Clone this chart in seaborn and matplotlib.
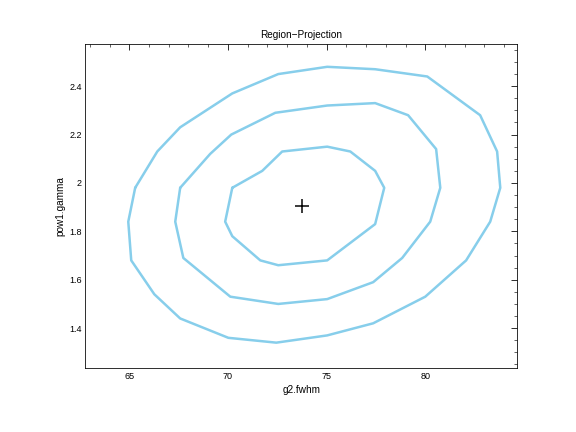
import matplotlib
matplotlib.use("Agg")
import matplotlib.pyplot as plt
import seaborn as sns
import pandas as pd
from matplotlib.ticker import AutoMinorLocator

sns.set_style("white")
plt.rcParams['font.family'] = ['Liberation Sans', 'DejaVu Sans']
plt.rcParams['text.color'] = 'black'
plt.rcParams['axes.labelcolor'] = 'black'
plt.rcParams['xtick.color'] = 'black'
plt.rcParams['ytick.color'] = 'black'

outer_x = [65.3,64.95,65.1,66.27,67.58,70.02,72.45,75.03,77.36,80.0,82.07,83.29,83.8,83.64,82.78,80.1,77.46,75.03,72.55,70.22,67.58,66.42,65.3]
outer_y = [1.98,1.84,1.68,1.54,1.44,1.36,1.34,1.37,1.42,1.53,1.68,1.84,1.98,2.13,2.28,2.44,2.47,2.48,2.45,2.37,2.23,2.13,1.98]
mid_x = [67.58,67.33,67.74,70.12,72.55,75.03,77.36,78.83,80.25,80.76,80.55,79.13,77.46,75.03,72.40,70.17,69.10,67.58]
mid_y = [1.98,1.84,1.69,1.53,1.50,1.52,1.59,1.69,1.84,1.98,2.14,2.28,2.33,2.32,2.29,2.20,2.12,1.98]
inn_x = [70.22,69.86,70.22,71.64,72.55,75.03,77.46,77.92,77.46,76.20,75.03,72.75,71.74,70.22]
inn_y = [1.98,1.84,1.78,1.68,1.66,1.68,1.83,1.98,2.05,2.13,2.15,2.13,2.05,1.98]
best_x = [73.76]
best_y = [1.904]

fig = plt.figure(figsize=(8, 6), dpi=72)
ax = fig.add_axes([0.148, 0.148, 0.75, 0.75])
for xs, ys in [(outer_x, outer_y), (mid_x, mid_y), (inn_x, inn_y)]:
    df = pd.DataFrame({"x": xs, "y": ys})
    sns.lineplot(data=df, x="x", y="y", sort=False, estimator=None, ax=ax,
                 color="#87CEEB", lw=2.5)
sns.scatterplot(x=best_x, y=best_y, marker="+", s=200, color="black", linewidth=1.5, ax=ax)

ax.set_xlim(62.77, 84.66)
ax.set_ylim(1.235, 2.574)
ax.set_xticks([65, 70, 75, 80])
ax.set_yticks([1.4, 1.6, 1.8, 2.0, 2.2, 2.4])
ax.set_yticklabels(["1.4", "1.6", "1.8", "2", "2.2", "2.4"])
ax.xaxis.set_minor_locator(AutoMinorLocator(5))
ax.yaxis.set_minor_locator(AutoMinorLocator(4))
ax.tick_params(which="both", direction="in", top=True, right=True, labelsize=9, color="black")
ax.tick_params(which="major", length=6)
ax.tick_params(which="minor", length=3)
for s in ax.spines.values():
    s.set_color("black"); s.set_linewidth(0.8)
ax.set_xlabel("g2.fwhm", fontsize=10)
ax.set_ylabel("pow1.gamma", fontsize=10)
ax.set_title("Region\u2212Projection", fontsize=10)
fig.savefig("out.png", dpi=72)
